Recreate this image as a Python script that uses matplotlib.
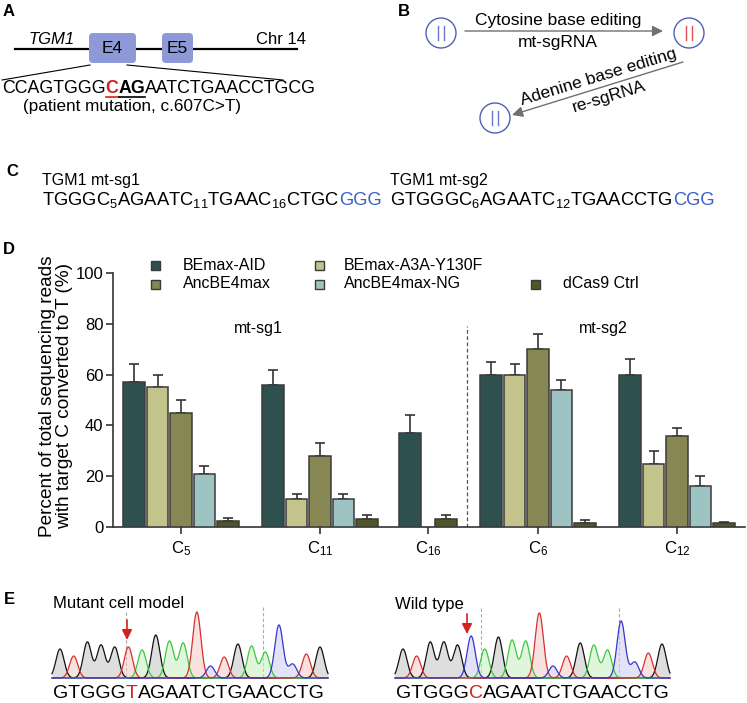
import numpy as np
import matplotlib
matplotlib.use('Agg')
import matplotlib.pyplot as plt
from matplotlib.patches import FancyBboxPatch, Circle, Rectangle

plt.rcParams['font.family'] = ['Liberation Sans', 'DejaVu Sans']
plt.rcParams['mathtext.fontset'] = 'custom'
plt.rcParams['mathtext.rm'] = 'Liberation Sans'
plt.rcParams['mathtext.it'] = 'Liberation Sans:italic'
plt.rcParams['mathtext.bf'] = 'Liberation Sans:bold'
plt.rcParams['mathtext.default'] = 'regular'

nan = np.nan
# ---------------- data (panel D) ----------------
sites = ['C$_5$', 'C$_{11}$', 'C$_{16}$', 'C$_6$', 'C$_{12}$']
editors = ['BEmax-AID', 'BEmax-A3A-Y130F', 'AncBE4max', 'AncBE4max-NG', 'dCas9 Ctrl']
aid = [57, 56, 37, 60, 60]
aid_err = [7, 6, 7, 5, 6]
a3a = [55, 11, nan, 60, 25]
a3a_err = [5, 2, nan, 4, 5]
anc = [45, 28, nan, 70, 36]
anc_err = [5, 5, nan, 6, 3]
ng = [21, 11, nan, 54, 16]
ng_err = [3, 2, nan, 4, 4]
dcas = [2.2, 3, 3.1, 1.7, 1.4]
dcas_err = [1.3, 1.9, 1.5, 1.1, 0.6]
guides = ['mt-sg1', 'mt-sg2']

# ---------------- data (panel E) ----------------
mut_seq = 'GTGGGTAGAATCTGAACCTG'
mut_heights = [29, 22, 36, 33, 31, 31, 28, 43, 37, 35, 66, 12, 21, 34, 32, 26, 53, 14, 24, 31]
wt_seq = 'GTGGGCAGAATCTGAACCTG'
wt_heights = [29, 22, 36, 36, 33, 42, 29, 41, 38, 37, 65, 12, 22, 35, 33, 28, 57, 16, 25, 34]

bar_colors = ['#2e5150', '#c2c48c', '#878754', '#9ec3c3', '#525528']
edge = '#3a3a3a'

fig = plt.figure(figsize=(7.47, 7.03), dpi=100)
ov = fig.add_axes([0, 0, 1, 1], zorder=0)
ov.set_xlim(0, 747)
ov.set_ylim(703, 0)
ov.axis('off')
ov.patch.set_visible(False)
fig.canvas.draw()
renderer = fig.canvas.get_renderer()


def seq_text(x, y, parts, size, va='baseline'):
    ext = []
    for s, color, weight in parts:
        t = ov.text(x, y, s, color=color, fontweight=weight, fontsize=size,
                    ha='left', va=va)
        bb = t.get_window_extent(renderer)
        ext.append((x, x + bb.width))
        x += bb.width
    return ext


# panel letters
for lab, (lx, ly) in zip('ABCDE', [(9, 12), (404, 12), (12, 172), (9, 249), (9, 600)]):
    ov.text(lx, ly, lab, fontsize=12, fontweight='bold', ha='center', va='center')

# ---------------- Panel A ----------------
ov.plot([15, 297], [49, 49], color='black', lw=1.6, zorder=1)
exon_col = '#8e9ad8'
for (x0, x1, lab) in [(89, 136, 'E4'), (162, 193, 'E5')]:
    p = FancyBboxPatch((x0, 33), x1 - x0, 30, boxstyle='round,pad=0,rounding_size=4',
                       fc=exon_col, ec='none', zorder=2)
    ov.add_patch(p)
    ov.text((x0 + x1) / 2, 48.5, lab, fontsize=12.5, ha='center', va='center', zorder=3)
ov.text(52, 40, 'TGM1', fontsize=12, style='italic', ha='center', va='center')
ov.text(281, 40, 'Chr 14', fontsize=12, ha='center', va='center')
ov.plot([90, 2], [65, 80], color='black', lw=0.8)
ov.plot([127, 283], [65, 80], color='black', lw=0.8)
ext = seq_text(2, 93, [('CCAGTGGG', 'black', 'normal'), ('C', '#d42020', 'bold'),
                       ('AG', 'black', 'bold'), ('AATCTGAACCTGCG', 'black', 'normal')], 12.8)
ov.plot([ext[1][0], ext[1][1]], [96.5, 96.5], color='#d42020', lw=1.2)
ov.plot([ext[2][0], ext[2][1]], [96.5, 96.5], color='black', lw=1.2)
ov.text(132, 107, '(patient mutation, c.607C>T)', fontsize=12.3, ha='center', va='center')

# ---------------- Panel B ----------------
def cell(cx, cy, lc):
    ov.add_patch(Circle((cx, cy), 15, fill=False, ec='#4f5fb8', lw=1))
    for dx in (-3, 3):
        ov.plot([cx + dx, cx + dx], [cy - 7, cy + 7], color=lc, lw=1)

cell(441, 33, '#6a78cc')
cell(689, 33, '#e05050')
cell(495, 118, '#6a78cc')
ov.annotate('', xy=(663, 31), xytext=(465, 31),
            arrowprops=dict(arrowstyle='-|>', color='#707070', lw=1, mutation_scale=16,
                            shrinkA=0, shrinkB=0))
ov.text(558, 21, 'Cytosine base editing', fontsize=12.5, ha='center', va='center')
ov.text(558, 43, 'mt-sgRNA', fontsize=12.5, ha='center', va='center')
ov.annotate('', xy=(512, 115), xytext=(683, 62),
            arrowprops=dict(arrowstyle='-|>', color='#707070', lw=1, mutation_scale=16,
                            shrinkA=0, shrinkB=0))
ov.text(599, 77, 'Adenine base editing', fontsize=12.5, ha='center', va='center',
        rotation=17, rotation_mode='anchor')
ov.text(609, 97, 're-sgRNA', fontsize=12.5, ha='center', va='center',
        rotation=17, rotation_mode='anchor')

# ---------------- Panel C ----------------
ov.text(42, 185, 'TGM1 mt-sg1', fontsize=11.5, ha='left', va='baseline')
ov.text(390, 185, 'TGM1 mt-sg2', fontsize=11.5, ha='left', va='baseline')
seq_text(42, 205, [('TGGGC$_5$AGAATC$_{11}$TGAAC$_{16}$CTGC', 'black', 'normal'),
                   ('GGG', '#3b5fc8', 'normal')], 13.2)
seq_text(390, 205, [('GTGGGC$_6$AGAATC$_{12}$TGAACCTG', 'black', 'normal'),
                    ('CGG', '#3b5fc8', 'normal')], 13.2)

# ---------------- Panel D ----------------
ax = fig.add_axes([113 / 747, (703 - 527) / 703, (745 - 113) / 747, (527 - 273) / 703], zorder=2)
ax.patch.set_visible(False)
ax.set_xlim(113, 745)
ax.set_ylim(0, 100)
centers = [181, 320, 428, 538, 677]
step = 23.4
width = 21.5
series = [(aid, aid_err), (a3a, a3a_err), (anc, anc_err), (ng, ng_err), (dcas, dcas_err)]
for gi, c in enumerate(centers):
    present = [si for si in range(5) if not np.isnan(series[si][0][gi])]
    if len(present) == 5:
        offs = [(k - 2) * step for k in range(5)]
    else:
        offs = [(k - (len(present) - 1) / 2) * 36 for k in range(len(present))]
    for k, si in enumerate(present):
        v, e = series[si][0][gi], series[si][1][gi]
        ax.bar(c + offs[k], v, width=width, color=bar_colors[si], edgecolor=edge, lw=1.1, zorder=3)
        ax.errorbar(c + offs[k], v, yerr=[[0], [e]], color='#333333', lw=1.2,
                    capsize=3.6, capthick=1.2, zorder=2)
ax.axvline(467, ymin=0, ymax=0.79, color='#555555', lw=0.9, ls=(0, (3, 2)), zorder=1)
ax.text(258, 78, guides[0], fontsize=11.5, ha='center', va='center')
ax.text(603, 78, guides[1], fontsize=11.5, ha='center', va='center')
for s in ['top', 'right']:
    ax.spines[s].set_visible(False)
for s in ['left', 'bottom']:
    ax.spines[s].set_color('#333333')
    ax.spines[s].set_linewidth(1.2)
ax.set_yticks([0, 20, 40, 60, 80, 100])
ax.set_xticks(centers)
ax.set_xticklabels(sites)
ax.tick_params(axis='both', labelsize=12, color='#333333', width=1.2, length=5)
ax.tick_params(axis='x', pad=4)
ax.tick_params(axis='y', pad=2)
ov.text(56, 396, 'Percent of total sequencing reads\nwith target C converted to T (%)',
        fontsize=13.7, rotation=90, ha='center', va='center', linespacing=1.05)

# legend (manual)
leg_items = [(0, 155, 183, 265), (2, 155, 183, 284), (1, 319, 344, 265), (3, 319, 344, 284),
             (4, 535, 563, 284)]
for si, mx, tx, ty in leg_items:
    ov.add_patch(Rectangle((mx - 4.5, ty - 4.5), 9, 9, fc=bar_colors[si], ec=edge, lw=1))
    ov.text(tx, ty, editors[si], fontsize=11.5, ha='left', va='center')

# ---------------- Panel E ----------------
base_cols = {'G': '#111111', 'A': '#3cc83c', 'T': '#d43030', 'C': '#3535d0'}
fill_cols = {'G': '#c4c4c4', 'A': '#c8f0c0', 'T': '#f4cac6', 'C': '#cdcdf4'}
baseline = 678
sig = 4.1


def chromatogram(x0, x1, seq, heights, red_idx, label, lx, ly, dash_x, arrow_x, arrow_y):
    pos = np.linspace(x0, x1, len(seq))
    xx = np.linspace(x0 - 8, x1 + 8, 800)
    for b in 'GATC':
        yy = np.zeros_like(xx)
        for p, s, h in zip(pos, seq, heights):
            if s == b:
                yy += h * np.exp(-(xx - p) ** 2 / (2 * sig ** 2))
        ov.fill_between(xx, baseline, baseline - yy, color=fill_cols[b], alpha=0.55, lw=0)
        ov.plot(xx, baseline - yy, color=base_cols[b], lw=0.9)
    for dx, dtop in dash_x:
        ov.plot([dx, dx], [dtop, baseline], color='#aaaaaa', lw=0.8, ls=(0, (3, 2)), zorder=0)
    ov.annotate('', xy=(arrow_x, arrow_y[1]), xytext=(arrow_x, arrow_y[0]),
                arrowprops=dict(arrowstyle='-|>', color='#d42020', lw=1.2, mutation_scale=15,
                                shrinkA=0, shrinkB=0))
    ov.text(lx, ly, label, fontsize=12, ha='left', va='center')
    parts = [(seq[:red_idx], 'black', 'normal'), (seq[red_idx], '#d42020', 'normal'),
             (seq[red_idx + 1:], 'black', 'normal')]
    seq_text(x0 - 7, 698, parts, 14)


chromatogram(60, 320, mut_seq, mut_heights, 5, 'Mutant cell model', 53, 603,
             [(126, 612), (263, 607)], 127, (620, 640))
chromatogram(403, 662, wt_seq, wt_heights, 5, 'Wild type', 395, 605,
             [(481, 608), (619, 608)], 467, (614, 634))

fig.savefig('out.png', dpi=100)
